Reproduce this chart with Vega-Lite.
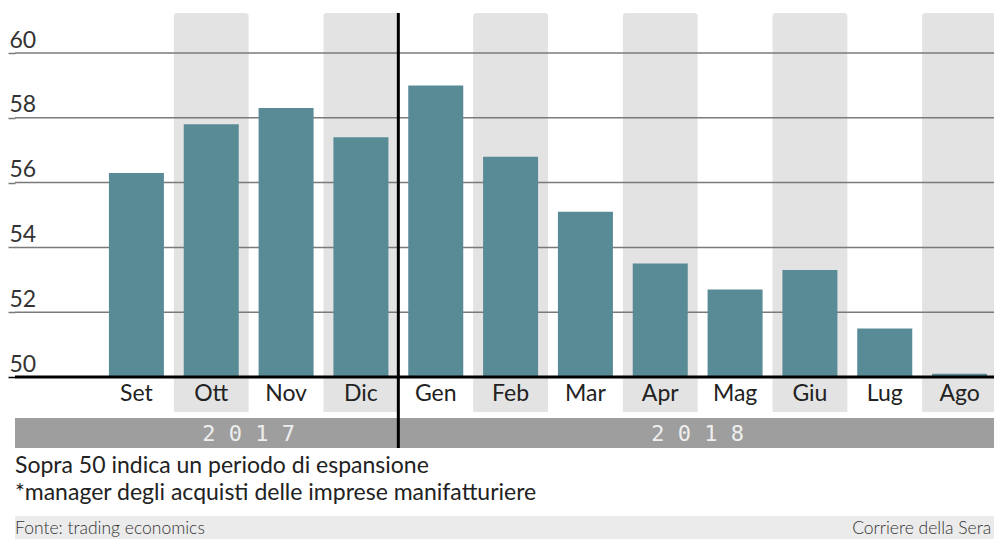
{
  "$schema": "https://vega.github.io/schema/vega-lite/v6.json",
  "width": 979,
  "height": 526,
  "autosize": {"type": "none"},
  "padding": {"left": 15, "top": 13, "right": 0, "bottom": 0},
  "background": "white",
  "config": {"view": {"stroke": null}, "font": "Lato"},
  "data": {"values": [
    {"m": "Set", "v": 56.3},
    {"m": "Ott", "v": 57.8},
    {"m": "Nov", "v": 58.3},
    {"m": "Dic", "v": 57.4},
    {"m": "Gen", "v": 59.0},
    {"m": "Feb", "v": 56.8},
    {"m": "Mar", "v": 55.1},
    {"m": "Apr", "v": 53.5},
    {"m": "Mag", "v": 52.7},
    {"m": "Giu", "v": 53.3},
    {"m": "Lug", "v": 51.5},
    {"m": "Ago", "v": 50.1}
  ]},
  "layer": [
    {
      "transform": [{"filter": {"field": "m", "oneOf": ["Ott", "Dic", "Feb", "Apr", "Giu", "Ago"]}}],
      "mark": {"type": "rect", "color": "#e3e3e3", "cornerRadiusTopLeft": 3, "cornerRadiusTopRight": 3},
      "encoding": {
        "x": {"field": "m", "type": "ordinal", "axis": null,
              "scale": {"domain": ["Set","Ott","Nov","Dic","Gen","Feb","Mar","Apr","Mag","Giu","Lug","Ago"], "range": [84, 982], "paddingInner": 0, "paddingOuter": 0}},
        "y": {"datum": 61.235, "type": "quantitative", "title": null,
              "scale": {"domain": [45, 61.235], "nice": false, "zero": false},
              "axis": {"values": [50, 52, 54, 56, 58, 60], "grid": false, "domain": false,
                       "ticks": true, "tickSize": 7, "tickWidth": 1.5,
                       "tickColor": {"condition": {"test": "datum.value === 50", "value": "#000000"}, "value": "#7a7a7a"},
                       "labelAlign": "left", "labelBaseline": "alphabetic", "labelPadding": -1, "labelOffset": -6,
                       "labelFont": "Lato", "labelFontSize": 23, "labelColor": "#333333",
                       "labelFlush": false, "labelOverlap": false, "labelBound": false}},
        "y2": {"datum": 48.92}
      }
    },
    {
      "data": {"values": [{"g": 52}, {"g": 54}, {"g": 56}, {"g": 58}, {"g": 60}]},
      "mark": {"type": "rule", "color": "#7a7a7a", "strokeWidth": 1.5},
      "encoding": {
        "y": {"field": "g", "type": "quantitative", "title": null}
      }
    },
    {
      "data": {"values": [{"k": "anni"}]},
      "mark": {"type": "rect", "color": "#9e9e9e"},
      "encoding": {
        "y": {"datum": 48.735, "type": "quantitative", "title": null},
        "y2": {"datum": 47.809}
      }
    },
    {
      "data": {"values": [{"k": "footer"}]},
      "mark": {"type": "rect", "color": "#ebebeb"},
      "encoding": {
        "y": {"datum": 45.71, "type": "quantitative", "title": null},
        "y2": {"datum": 45}
      }
    },
    {
      "mark": {"type": "bar", "color": "#588b96", "width": {"band": 0.735}},
      "encoding": {
        "x": {"field": "m", "type": "ordinal", "axis": null},
        "y": {"field": "v", "type": "quantitative", "title": null},
        "y2": {"datum": 50}
      }
    },
    {
      "data": {"values": [{"k": "base"}]},
      "mark": {"type": "rule", "color": "#000000", "strokeWidth": 3},
      "encoding": {
        "y": {"datum": 50, "type": "quantitative", "title": null}
      }
    },
    {
      "data": {"values": [{"m": "Gen"}]},
      "mark": {"type": "rule", "color": "#000000", "strokeWidth": 3},
      "encoding": {
        "x": {"field": "m", "type": "ordinal", "bandPosition": 0, "axis": null},
        "y": {"datum": 61.235, "type": "quantitative", "title": null},
        "y2": {"datum": 47.809}
      }
    },
    {
      "mark": {"type": "text", "font": "Lato", "fontSize": 23, "color": "#222222", "baseline": "alphabetic", "align": "center"},
      "encoding": {
        "x": {"field": "m", "type": "ordinal", "axis": null},
        "y": {"datum": 49.26, "type": "quantitative", "title": null},
        "text": {"field": "m"}
      }
    },
    {
      "data": {"values": [{"m": "Nov", "t": "2 0 1 7"}, {"m": "Mag", "t": "2 0 1 8"}]},
      "mark": {"type": "text", "font": "DejaVu Sans Mono", "fontSize": 22, "color": "#eeeeee", "baseline": "alphabetic", "align": "center"},
      "encoding": {
        "x": {"field": "m", "type": "ordinal", "bandPosition": 0, "axis": null},
        "y": {"datum": 48.025, "type": "quantitative", "title": null},
        "text": {"field": "t"}
      }
    },
    {
      "data": {"values": [{"m": "Set", "t": "Sopra 50 indica un periodo di espansione"}]},
      "mark": {"type": "text", "font": "Lato", "fontSize": 23, "color": "#222222", "baseline": "alphabetic", "align": "left", "dx": -84},
      "encoding": {
        "x": {"field": "m", "type": "ordinal", "bandPosition": 0, "axis": null},
        "y": {"datum": 47.037, "type": "quantitative", "title": null},
        "text": {"field": "t"}
      }
    },
    {
      "data": {"values": [{"m": "Set", "t": "*manager degli acquisti delle imprese manifatturiere"}]},
      "mark": {"type": "text", "font": "Lato", "fontSize": 23, "color": "#222222", "baseline": "alphabetic", "align": "left", "dx": -84},
      "encoding": {
        "x": {"field": "m", "type": "ordinal", "bandPosition": 0, "axis": null},
        "y": {"datum": 46.204, "type": "quantitative", "title": null},
        "text": {"field": "t"}
      }
    },
    {
      "data": {"values": [{"m": "Set", "t": "Fonte: trading economics"}]},
      "mark": {"type": "text", "font": "Lato", "fontSize": 17.5, "fontWeight": 300, "color": "#333333", "baseline": "alphabetic", "align": "left", "dx": -84},
      "encoding": {
        "x": {"field": "m", "type": "ordinal", "bandPosition": 0, "axis": null},
        "y": {"datum": 45.155, "type": "quantitative", "title": null},
        "text": {"field": "t"}
      }
    },
    {
      "data": {"values": [{"m": "Ago", "t": "Corriere della Sera"}]},
      "mark": {"type": "text", "font": "Lato", "fontSize": 17.5, "fontWeight": 300, "color": "#333333", "baseline": "alphabetic", "align": "right", "dx": 69},
      "encoding": {
        "x": {"field": "m", "type": "ordinal", "bandPosition": 0, "axis": null},
        "y": {"datum": 45.155, "type": "quantitative", "title": null},
        "text": {"field": "t"}
      }
    }
  ]
}
